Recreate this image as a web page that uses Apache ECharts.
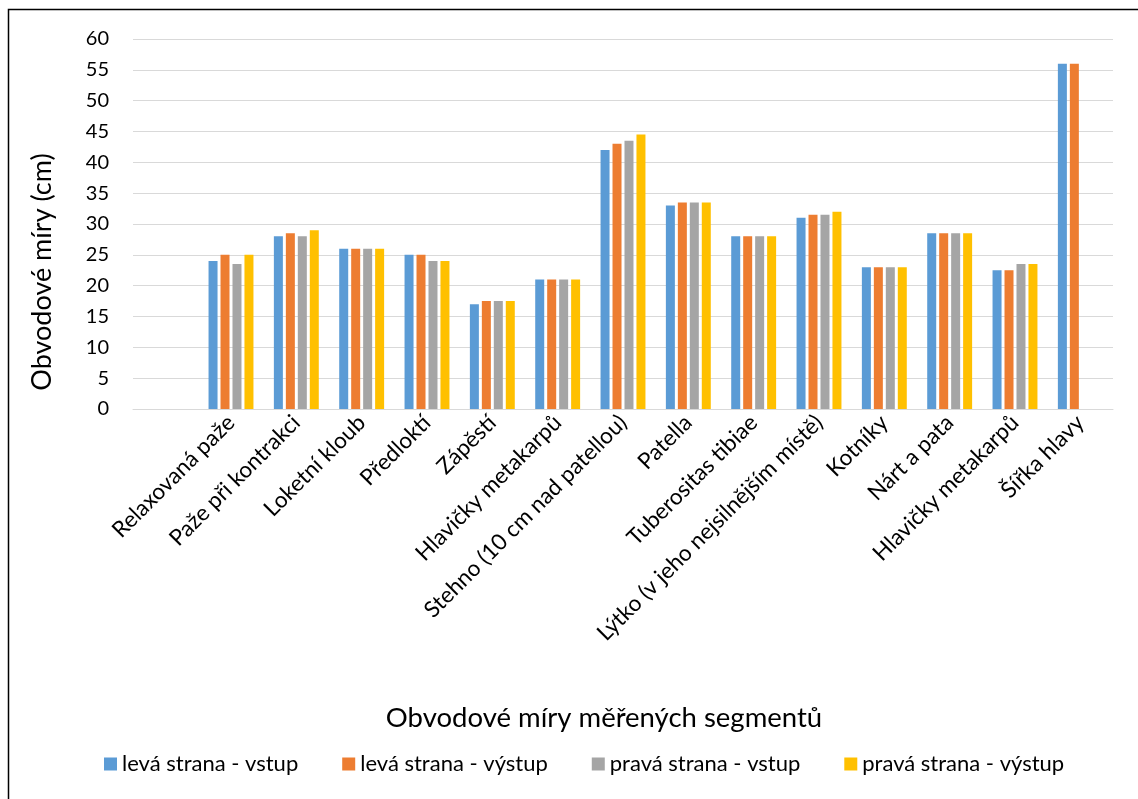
<!DOCTYPE html>
<html>
<head>
<meta charset="utf-8">
<script src="https://cdn.jsdelivr.net/npm/echarts@6/dist/echarts.min.js"></script>
<style>
html,body{margin:0;padding:0;background:#fff;}
#c{width:1138px;height:799px;}
</style>
</head>
<body>
<div id="c"></div>
<script>
const categories = ["", "Relaxovaná paže", "Paže při kontrakci", "Loketní kloub", "Předloktí", "Zápěstí", "Hlavičky metakarpů", "Stehno (10 cm nad patellou)", "Patella", "Tuberositas tibiae", "Lýtko (v jeho nejsilnějším místě)", "Kotníky", "Nárt a pata", "Hlavičky metakarpů", "Šířka hlavy"];
const levaVstup   = [null, 24, 28, 26, 25, 17, 21, 42, 33, 28, 31, 23, 28.5, 22.5, 56];
const levaVystup  = [null, 25, 28.5, 26, 25, 17.5, 21, 43, 33.5, 28, 31.5, 23, 28.5, 22.5, 56];
const pravaVstup  = [null, 23.5, 28, 26, 24, 17.5, 21, 43.5, 33.5, 28, 31.5, 23, 28.5, 23.5, null];
const pravaVystup = [null, 25, 29, 26, 24, 17.5, 21, 44.5, 33.5, 28, 32, 23, 28.5, 23.5, null];
const seriesNames = ["levá strana - vstup", "levá strana - výstup", "pravá strana - vstup", "pravá strana - výstup"];
const colors = ["#5B9BD5", "#ED7D31", "#A5A5A5", "#FFC000"];

const FONT = "Lato";
const chart = echarts.init(document.getElementById('c'), null, {renderer: 'canvas'});
const mk = (name, data, color) => ({
  name, type: 'bar', data, barWidth: 9, barGap: '33%',
  itemStyle: {color}, animation: false
});
chart.setOption({
  backgroundColor: '#fff',
  animation: false,
  textStyle: {fontFamily: FONT, color: '#000'},
  grid: {left: 133, right: 25, top: 39, bottom: 390, containLabel: false},
  xAxis: {
    type: 'category', data: categories,
    axisLine: {show: true, lineStyle: {color: '#D9D9D9', width: 1}},
    axisTick: {show: false},
    axisLabel: {rotate: 45, interval: 0, fontSize: 22.5, color: '#000', fontFamily: FONT, margin: 10}
  },
  yAxis: {
    type: 'value', min: 0, max: 60, interval: 5,
    axisLine: {show: false}, axisTick: {show: false},
    splitLine: {lineStyle: {color: '#D9D9D9', width: 1}},
    axisLabel: {fontSize: 20, color: '#000', fontFamily: FONT, margin: 24}
  },
  legend: {
    data: seriesNames, bottom: 19, left: 99,
    itemWidth: 13, itemHeight: 13, itemGap: 44, icon: 'rect',
    textStyle: {fontSize: 22, color: '#000', fontFamily: FONT, padding: [0,0,0,0]}
  },
  graphic: [
    {type: 'rect', shape: {x: 8.5, y: 9.5, width: 1140, height: 800}, style: {fill: 'none', stroke: '#000', lineWidth: 1.5}, z: -1},
    {type: 'text', x: 42, y: 272, rotation: Math.PI/2, style: {text: 'Obvodové míry (cm)', font: '27px ' + FONT, fill: '#000', textAlign: 'center', textVerticalAlign: 'middle'}},
    {type: 'text', x: 604, y: 718, style: {text: 'Obvodové míry měřených segmentů', font: '27.5px ' + FONT, fill: '#000', textAlign: 'center', textVerticalAlign: 'middle'}}
  ],
  series: [
    mk(seriesNames[0], levaVstup, colors[0]),
    mk(seriesNames[1], levaVystup, colors[1]),
    mk(seriesNames[2], pravaVstup, colors[2]),
    mk(seriesNames[3], pravaVystup, colors[3])
  ]
});
</script>
</body>
</html>
